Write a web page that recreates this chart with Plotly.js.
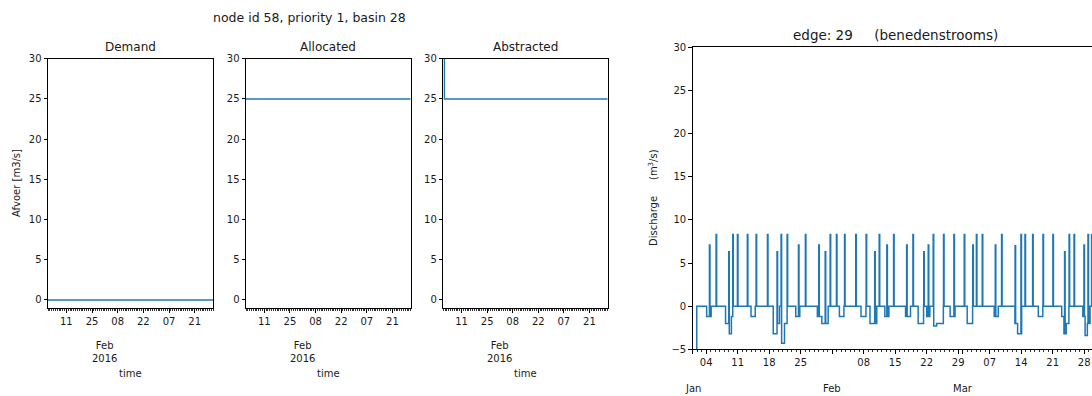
<!DOCTYPE html>
<html><head><meta charset="utf-8">
<script src="https://cdn.plot.ly/plotly-3.0.1.min.js"></script>
<style>html,body{margin:0;padding:0;overflow:hidden;background:#fff}#chart{width:1110px;height:396px}</style>
</head><body><div id="chart"></div>
<script>
// ---------------- data ----------------
// time in days since 2016-01-01
const seriesDays = [0, 90];
const demand = [0, 0];
const allocated = [25, 25];
const abstractedDays = [0, 0.6, 90];
const abstracted = [35, 25, 25];

// edge 29 discharge: initial (off-scale) value, then events
const edgeStartDay = 0.9;
const edgeInitial = -20;
const spikeDays = [3.78, 5.26, 8.07, 8.96, 10.0, 12.2, 14.15, 16.67, 18.8, 19.7, 21.04, 23.56, 25.1,
  28.07, 29.5, 30.6, 32.0, 33.8, 36.3, 38.6, 40.5, 41.5, 43.2, 44.7, 47.6, 49.0, 51.4, 52.4, 53.5,
  55.8, 58.1, 60.4, 62.3, 63.1, 64.4, 67.3, 68.7, 71.7, 73.0, 73.9, 75.6, 77.9, 80.1, 82.7, 83.7,
  84.8, 87.0, 87.9, 88.7];
const spikeVals = [7.1, 8.3, 6.3, 8.3, 8.3, 8.3, 8.3, 8.3, 6.3, 8.3, 8.3, 7.1, 8.3,
  7.1, 6.3, 8.3, 8.3, 8.3, 8.3, 8.3, 6.3, 8.3, 7.1, 8.3, 7.1, 8.3, 6.3, 7.1, 8.3,
  8.3, 8.3, 8.3, 7.1, 8.3, 8.3, 7.1, 8.3, 7.0, 8.3, 8.3, 8.3, 8.3, 8.3, 6.3, 8.3,
  8.3, 7.1, 8.3, 8.3];
const dipStart = [3.1, 7.3, 8.07, 8.6, 12.96, 17.9, 18.8, 19.7, 20.4, 22.9, 27.7, 28.7, 32.6, 37.4,
  39.4, 42.7, 47.3, 50.1, 52.0, 53.5, 54.2, 57.2, 61.0, 67.0, 71.6, 72.2, 76.8, 82.0, 82.5, 83.0,
  86.7, 87.2, 87.7];
const dipEnd = [4.1, 8.07, 8.6, 9.0, 13.9, 18.8, 19.3, 20.4, 21.0, 23.8, 28.7, 30.1, 33.6, 38.5,
  40.9, 43.6, 48.4, 51.3, 52.7, 54.2, 55.7, 58.3, 62.2, 67.9, 72.2, 73.1, 77.8, 82.5, 83.0, 83.6,
  87.2, 87.7, 88.3];
const dipVals = [-1.2, -2.0, -3.2, -1.2, -1.2, -3.2, -2.0, -4.3, -2.0, -1.2, -1.2, -2.0, -1.2, -1.2,
  -2.0, -1.2, -1.2, -2.0, -1.2, -2.3, -2.0, -1.2, -2.0, -1.2, -2.0, -3.2, -1.2, -1.2, -3.2, -2.0,
  -1.2, -3.4, -2.0];

// tick labels
const smallTickDates = ['2016-01-11','2016-01-25','2016-02-08','2016-02-22','2016-03-07','2016-03-21'];
const smallTickLabels = ['11','25','08','22','07','21'];
const edgeTickDates = ['2016-01-01','2016-01-04','2016-01-11','2016-01-18','2016-01-25','2016-02-01',
  '2016-02-08','2016-02-15','2016-02-22','2016-02-29','2016-03-01','2016-03-07','2016-03-14','2016-03-21','2016-03-28'];
const edgeTickLabels = ['','04','11','18','25','','08','15','22','29','','07','14','21','28'];
const monthDates = ['2016-01-01','2016-02-01','2016-03-01'];
const monthLabels = ['Jan','Feb','Mar'];

// ---------------- build ----------------
const W = 1110, H = 396;
const START = Date.UTC(2016,0,1), DAY = 86400000;
const toT = d => START + d*DAY;
const BLUE = '#1f77b4', TXT = '#1a1a1a', FONT = 'DejaVu Sans';
const px = x => x / W, py = y => 1 - y / H;

// step series for edge
const SW = 0.06;
let bps = new Set([0, edgeStartDay, 90]);
dipStart.forEach(v => bps.add(v)); dipEnd.forEach(v => bps.add(v));
spikeDays.forEach(v => { bps.add(v - SW); bps.add(v + SW); });
bps = Array.from(bps).sort((a,b)=>a-b);
const ex = [], ey = [];
for (let i = 0; i < bps.length; i++) {
  const t0 = bps[i], t1 = i < bps.length-1 ? bps[i+1] : bps[i];
  const m = (t0 + t1) / 2;
  let v;
  if (m < edgeStartDay) v = edgeInitial;
  else {
    v = 0;
    for (let k = 0; k < dipStart.length; k++) if (m > dipStart[k] && m < dipEnd[k]) v = dipVals[k];
    for (let k = 0; k < spikeDays.length; k++) if (Math.abs(m - spikeDays[k]) < SW) v = spikeVals[k];
  }
  if (i === bps.length-1) v = ey[ey.length-1];
  ex.push(toT(t0)); ey.push(v);
}

const line = {color: BLUE, width: 1.5, shape: 'hv'};
const traces = [
  {x: seriesDays.map(toT), y: demand, xaxis:'x', yaxis:'y', mode:'lines', line},
  {x: seriesDays.map(toT), y: allocated, xaxis:'x2', yaxis:'y2', mode:'lines', line},
  {x: abstractedDays.map(toT), y: abstracted, xaxis:'x3', yaxis:'y3', mode:'lines', line},
  {x: ex, y: ey, xaxis:'x4', yaxis:'y4', mode:'lines', line},
];

function xax(x0, x1, tv, tt, anchor) {
  return {domain:[px(x0), px(x1)], type:'date', range:['2016-01-01','2016-03-31'],
    tickmode:'array', tickvals: tv, ticktext: tt, ticks:'outside', ticklen:3.5, tickwidth:1, tickcolor:'#000',
    minor:{ticks:'outside', ticklen:2, tickwidth:0.8, tickcolor:'#000', dtick: DAY, tick0:'2016-01-01', showgrid:false},
    showline:true, linecolor:'#000', linewidth:1, mirror:true, showgrid:false, zeroline:false,
    anchor, tickfont:{size:10, color:TXT, family:FONT}, automargin:false, fixedrange:true};
}
function yax(y0, y1, range, anchor) {
  return {domain:[py(y1), py(y0)], range, tickmode:'linear', tick0:0, dtick:5,
    ticks:'outside', ticklen:3.5, tickwidth:1, tickcolor:'#000',
    showline:true, linecolor:'#000', linewidth:1, mirror:true, showgrid:false, zeroline:false,
    anchor, tickfont:{size:10, color:TXT, family:FONT}, automargin:false, fixedrange:true};
}

const P = [[48,213],[246,410.7],[443.3,607.7]];
const layout = {
  width: W, height: H, margin:{l:0,r:0,t:0,b:0}, showlegend:false,
  paper_bgcolor:'#fff', plot_bgcolor:'#fff', font:{family:FONT, color:TXT, size:10},
  xaxis: xax(P[0][0], P[0][1], smallTickDates, smallTickLabels, 'y'),
  yaxis: yax(58.7, 308, [-1, 30], 'x'),
  xaxis2: xax(P[1][0], P[1][1], smallTickDates, smallTickLabels, 'y2'),
  yaxis2: yax(58.7, 308, [-1, 30], 'x2'),
  xaxis3: xax(P[2][0], P[2][1], smallTickDates, smallTickLabels, 'y3'),
  yaxis3: yax(58.7, 308, [-1, 30], 'x3'),
  xaxis4: Object.assign(xax(692.7, 1097.7, edgeTickDates, edgeTickLabels, 'y4'), {}),
  yaxis4: yax(47.3, 349.3, [-5, 30], 'x4'),
  annotations: []
};
const A = layout.annotations;
const ann = (text, x, y, size, extra) => A.push(Object.assign({text, x: px(x), y: py(y), xref:'paper', yref:'paper',
  showarrow:false, xanchor:'center', yanchor:'middle', font:{size, color:TXT, family:FONT}}, extra||{}));

ann('node id 58, priority 1, basin 28', 309, 17, 12.5);
['Demand','Allocated','Abstracted'].forEach((t,i) => ann(t, (P[i][0]+P[i][1])/2, 47, 12));
ann('edge: 29\u00a0\u00a0\u00a0\u00a0\u00a0(benedenstrooms)', 895.2, 35, 13.5);
ann('Afvoer [m3/s]', 16, 183, 10, {textangle:-90});
ann('Discharge\u00a0\u00a0\u00a0\u00a0\u00a0(m<sup>3</sup>/s)', 653, 198, 10, {textangle:-90});
['x','x2','x3'].forEach((xr,i) => {
  A.push({text:'Feb<br>2016', x:'2016-02-01', xref:xr, y: py(351.5), yref:'paper', showarrow:false,
    xanchor:'center', yanchor:'middle', font:{size:10, color:TXT, family:FONT}});
  ann('time', (P[i][0]+P[i][1])/2, 373, 10);
});
monthDates.forEach((d,i) => A.push({text: monthLabels[i], x: d, xref:'x4', y: py(388), yref:'paper', showarrow:false,
  xanchor:'center', yanchor:'middle', font:{size:10, color:TXT, family:FONT}}));

Plotly.newPlot('chart', traces, layout, {staticPlot:true, displayModeBar:false});
</script></body></html>
